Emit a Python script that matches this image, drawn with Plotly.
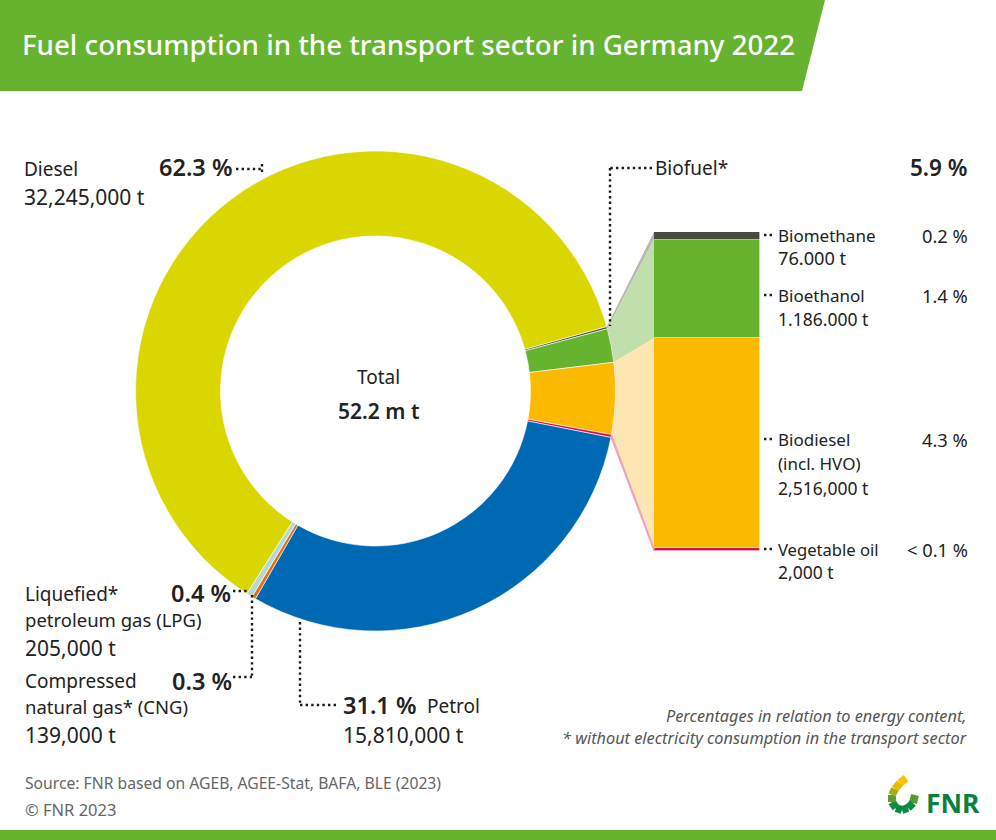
import math
import plotly.graph_objects as go

W, H = 996, 840
FONT = "Noto Sans"

# ---- data (tonnes; the thinnest sectors are drawn wider than true scale, as in the original)
pie_labels = ["Diesel", "Biomethane", "Bioethanol", "Biodiesel", "Vegetable oil", "Petrol", "CNG", "LPG"]
pie_values = [32245000, 76000, 1186000, 2516000, 100000, 15810000, 139000, 205000]
pie_colors = ["#dad600", "#4a4a40", "#65b32e", "#fbb900", "#d6104f", "#0069b4", "#e2711d", "#b5d9d0"]

bar_labels = ["Vegetable oil", "Biodiesel", "Bioethanol", "Biomethane"]
bar_values = [36000, 2516000, 1186000, 90000]
bar_colors = ["#d6104f", "#fbb900", "#65b32e", "#4a4a40"]

# ---- layout constants in pixels
CX, CY, R, r_in = 375.5, 391.0, 240.0, 155.0
ROT = 212.4
BX0, BX1, BY0, BY1 = 654, 760, 232, 551


def px(x):
    return x / W


def py(y):
    return 1 - y / H


fig = go.Figure()
fig.add_trace(go.Pie(labels=pie_labels, values=pie_values, sort=False, direction="clockwise",
                     rotation=ROT, hole=r_in / R, textinfo="none", showlegend=False,
                     marker=dict(colors=pie_colors, line=dict(color="white", width=0.6)),
                     domain=dict(x=[px(CX - R), px(CX + R)], y=[py(CY + R), py(CY - R)])))

for lab, val, col in zip(bar_labels, bar_values, bar_colors):
    fig.add_trace(go.Bar(x=[0], y=[val], name=lab, width=1, showlegend=False,
                         marker=dict(color=col, line=dict(color="white", width=0.6))))

shapes = []
anns = []


def rect_path(points):
    s = "M " + " L ".join(f"{px(a):.5f},{py(b):.5f}" for a, b in points) + " Z"
    return s


def poly(points, color, **kw):
    shapes.append(dict(type="path", path=rect_path(points), fillcolor=color, xref="paper", yref="paper",
                       line=dict(width=kw.get("lw", 0), color=kw.get("lc", color)), layer=kw.get("layer", "above")))


def dots(x0, y0, x1, y1):
    shapes.append(dict(type="line", x0=px(x0), y0=py(y0), x1=px(x1), y1=py(y1), xref="paper", yref="paper",
                       line=dict(color="#1a1a1a", width=2.4, dash="2.4px,3.2px")))


def txt(x, y, s, size=18.5, color="#222222", bold=False, anchor="left", italic=False, weight=None):
    shift = {"left": -1.5, "right": 2, "center": 0}[anchor]
    anns.append(dict(x=px(x), y=py(y), text=f"<i>{s}</i>" if italic else s, showarrow=False, xref="paper", yref="paper",
                     xanchor=anchor, yanchor="middle", xshift=shift, align=anchor,
                     font=dict(family=FONT, size=size, color=color, weight=weight or (600 if bold else 400)),
                     borderpad=0))


# header and footer bands
poly([(0, 0), (825, 0), (802, 91), (0, 91)], "#65b32e")
poly([(0, 830), (996, 830), (996, 840), (0, 840)], "#65b32e")

# connectors: derived from the pie sectors and stacked bar
total_pie = sum(pie_values)
cum = [0]
for v in pie_values:
    cum.append(cum[-1] + v)


def pie_pt(c, rad=R):
    a = math.radians(ROT + c / total_pie * 360)
    return CX + rad * math.sin(a), CY - rad * math.cos(a)


def arc(c0, c1, n=10):
    return [pie_pt(c0 + (c1 - c0) * i / n) for i in range(n + 1)]


tot_bar = sum(bar_values)


def bar_y(v):
    return BY1 - (BY1 - BY0) * v / tot_bar


bc = [0]
for v in bar_values:
    bc.append(bc[-1] + v)

# biomethane, bioethanol, biodiesel, vegetable oil
poly(arc(cum[1], cum[2]) + [(BX0, bar_y(bc[3])), (BX0, bar_y(bc[4]))], "#b9b9b4")
poly(arc(cum[2], cum[3]) + [(BX0, bar_y(bc[2])), (BX0, bar_y(bc[3]))], "#c1dfac")
poly(arc(cum[3], cum[4]) + [(BX0, bar_y(bc[1])), (BX0, bar_y(bc[2]))], "#fee6b3")
poly(arc(cum[4], cum[5], 2) + [(BX0, bar_y(bc[0])), (BX0, bar_y(bc[1]))], "#f0a0c0", lw=1, lc="#f0a0c0")

# leader lines
dots(236, 169, 262, 169)
dots(262, 164, 262, 174)
dots(652, 168, 610, 168)
dots(610, 168, 610, 326)
dots(764, 235, 775, 235)
dots(764, 295, 775, 295)
dots(764, 439, 775, 439)
dots(764, 549, 775, 549)
dots(233, 591, 249, 591)
dots(252, 595, 252, 677)
dots(233, 677, 252, 677)
dots(300, 622, 300, 705)
dots(300, 705, 338, 705)

# text
NUM = 21
txt(22, 44, "Fuel consumption in the transport sector in Germany 2022", size=27.7, color="white", weight=500)
txt(24, 169, "Diesel", size=19)
txt(24, 197, "32,245,000 t", size=NUM)
txt(232, 167, "62.3 %", size=23.5, bold=True, anchor="right")
txt(655, 168, "Biofuel*", size=19)
txt(967, 168, "5.9 %", size=22.5, bold=True, anchor="right")
txt(778, 235, "Biomethane", size=17)
txt(778, 258, "76.000 t", size=18.2)
txt(967, 235, "0.2 %", size=18.3, anchor="right")
txt(778, 295, "Bioethanol", size=17)
txt(778, 319, "1.186.000 t", size=17.5)
txt(967, 295, "1.4 %", size=18.3, anchor="right")
txt(778, 439, "Biodiesel", size=17)
txt(778, 463, "(incl. HVO)", size=17)
txt(778, 488, "2,516,000 t", size=17.5)
txt(967, 439, "4.3 %", size=18.3, anchor="right")
txt(778, 549, "Vegetable oil", size=16.6)
txt(778, 572, "2,000 t", size=17.5)
txt(967, 549, "< 0.1 %", size=18.3, anchor="right")
txt(378, 377, "Total", size=19, anchor="center")
txt(378, 411, "52.2 m t", size=21, bold=True, anchor="center")
txt(25, 594, "Liquefied*", size=19)
txt(25, 619, "petroleum gas (LPG)")
txt(25, 648, "205,000 t", size=NUM)
txt(230, 593, "0.4 %", size=23.5, bold=True, anchor="right")
txt(25, 681, "Compressed", size=19)
txt(25, 706, "natural gas* (CNG)")
txt(25, 735, "139,000 t", size=NUM)
txt(231, 681, "0.3 %", size=23.5, bold=True, anchor="right")
txt(343, 705, "31.1 %", size=23.5, bold=True)
txt(427, 706, "Petrol", size=19)
txt(343, 735, "15,810,000 t", size=NUM)
txt(966, 716, "Percentages in relation to energy content,", size=16.3, color="#555555", anchor="right", italic=True)
txt(966, 738, "* without electricity consumption in the transport sector", size=16.3, color="#555555", anchor="right", italic=True)
txt(25, 783, "Source: FNR based on AGEB, AGEE-Stat, BAFA, BLE (2023)", size=15.7, color="#666666")
txt(25, 809, "© FNR 2023", size=16.5, color="#666666")

# logo
logo_path = [(915, 795), (913, 803), (908, 808), (902, 810), (896, 808), (892, 802), (892, 795), (895, 789), (900, 783), (906, 778)]
for (a0, b0), (a1, b1) in zip(logo_path[:-1], logo_path[1:]):
    t = min(1, max(0, ((b0 + b1) / 2 - 784) / 22))
    col = f"rgb({int(253 - 243 * t)},{int(195 - 57 * t)},{int(0 + 69 * t)})"
    shapes.append(dict(type="line", x0=px(a0), y0=py(b0), x1=px(a1), y1=py(b1), xref="paper", yref="paper",
                       line=dict(color=col, width=8)))
txt(926, 803, "FNR", size=26.5, color="#0b7f3f", bold=True, weight=700)

fig.update_layout(width=W, height=H, margin=dict(l=0, r=0, t=0, b=0, autoexpand=False),
                  paper_bgcolor="white", plot_bgcolor="rgba(0,0,0,0)", barmode="stack", bargap=0,
                  shapes=shapes, annotations=anns,
                  xaxis=dict(domain=[px(BX0), px(BX1)], range=[-0.5, 0.5], visible=False, fixedrange=True),
                  yaxis=dict(domain=[py(BY1), py(BY0)], range=[0, tot_bar], visible=False, fixedrange=True))

fig.write_html("out.html", config=dict(displayModeBar=False),
               post_script="document.body.style.margin='0';document.body.style.overflow='hidden';")
